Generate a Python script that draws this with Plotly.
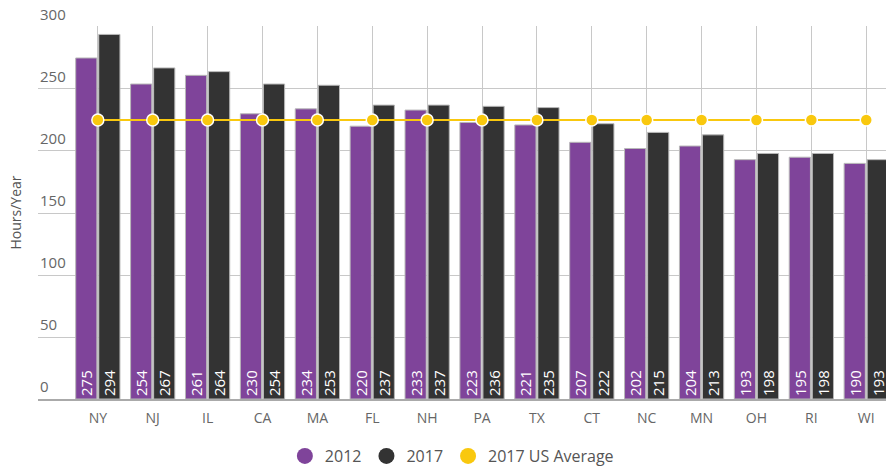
import plotly.graph_objects as go

states = ["NY", "NJ", "IL", "CA", "MA", "FL", "NH", "PA", "TX", "CT", "NC", "MN", "OH", "RI", "WI"]
hours_2012 = [275, 254, 261, 230, 234, 220, 233, 223, 221, 207, 202, 204, 193, 195, 190]
hours_2017 = [294, 267, 264, 254, 253, 237, 237, 236, 235, 222, 215, 213, 198, 198, 193]
us_avg_2017 = [225] * len(states)
y_ticks = [0, 50, 100, 150, 200, 250, 300]

PURPLE = "#7f449a"
DARK = "#333333"
YELLOW = "#f9c80e"
FONT = "Open Sans"

fig = go.Figure()

for name, vals, color in [("2012", hours_2012, PURPLE), ("2017", hours_2017, DARK)]:
    fig.add_trace(go.Bar(
        x=states, y=vals, name=name, showlegend=False,
        marker=dict(color=color, line=dict(color="#b8b8b8", width=1)),
        text=[str(v) for v in vals], textposition="inside", insidetextanchor="start",
        textangle=-90, constraintext="none",
        textfont=dict(family=FONT, size=15, color="white"),
        hoverinfo="x+y",
    ))

fig.add_trace(go.Scatter(
    x=states, y=us_avg_2017, mode="lines+markers", name="2017 US Average", showlegend=False,
    line=dict(color=YELLOW, width=2),
    marker=dict(color=YELLOW, size=12, line=dict(color="white", width=1.5)),
))

# legend entries drawn as round swatches
for name, color in [("2012", PURPLE), ("2017", DARK), ("2017 US Average", YELLOW)]:
    fig.add_trace(go.Scatter(
        x=[None], y=[None], mode="markers", name=name,
        marker=dict(color=color, size=17, symbol="circle"),
    ))

# y tick labels sit just above their gridlines, inside the plot area
for t in y_ticks:
    fig.add_annotation(
        x=0, xref="paper", xanchor="left", y=t, yref="y", yanchor="bottom",
        yshift=1, text=str(t), showarrow=False,
        font=dict(family=FONT, size=15, color="#666666"),
    )

fig.update_layout(
    width=886, height=476,
    margin=dict(l=38, r=0, t=26, b=77),
    paper_bgcolor="white", plot_bgcolor="white",
    barmode="group", bargap=0.16, bargroupgap=0.08,
    font=dict(family=FONT, color="#666666"),
    legend=dict(orientation="h", xref="container", yref="container",
                x=0.51, xanchor="center", y=0.042, yanchor="middle",
                font=dict(size=16, color="#555555"), itemsizing="trace"),
    showlegend=True,
)
fig.update_xaxes(
    type="category", range=[-1.09, 14.36],
    showgrid=True, gridcolor="#c8c8c8", gridwidth=1,
    showline=True, linecolor="#aaaaaa", linewidth=2,
    ticks="", ticklabelstandoff=5, tickfont=dict(size=14, color="#666666"),
)
fig.update_yaxes(
    range=[0, 300.8], tickvals=y_ticks, showticklabels=False,
    showgrid=True, gridcolor="#c8c8c8", gridwidth=1,
    zeroline=False,
    title=dict(text="Hours/Year", font=dict(size=14, color="#555555"), standoff=12),
)

fig.write_html("out.html")
